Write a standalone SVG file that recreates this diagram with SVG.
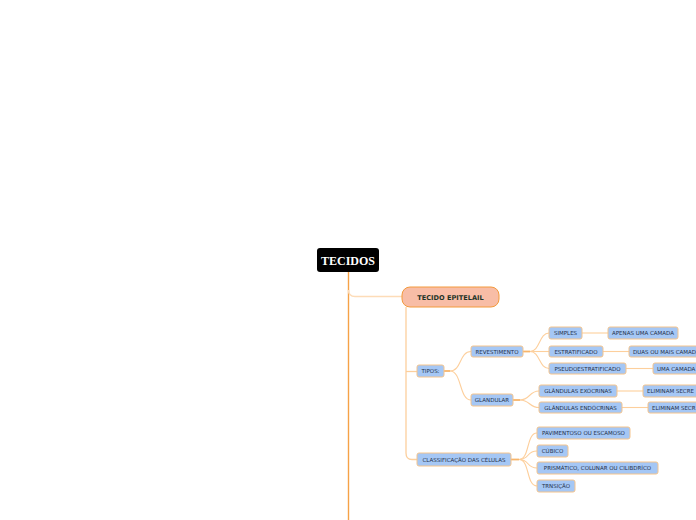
<svg xmlns="http://www.w3.org/2000/svg" width="696" height="520" viewBox="0 0 696 520">
<style>
.c{fill:none;stroke:#fdcf9c;stroke-width:1.1}
.m{fill:none;stroke:#f6a247;stroke-width:1.4}
.s{fill:none;stroke:#f8b56a;stroke-width:1.8}
.b{fill:#a5c7f5;stroke:#f5c48c;stroke-width:1}
.t{font-family:"DejaVu Sans",Verdana,sans-serif;font-size:5.5px;fill:#24304a;text-anchor:middle;dominant-baseline:central}
</style>
<rect width="696" height="520" fill="#ffffff"/>
<g id="connectors">
<path class="m" d="M348.5,272 V520"/>
<path d="M348.5,290 Q348.5,296.5 355,296.5 H402" fill="none" stroke="#fddcb8" stroke-width="1.5"/>
<path d="M406,307 V453 Q406,459.5 412,459.5 H417" fill="none" stroke="#fccf9d" stroke-width="1.3"/>
<path d="M406,371.5 H417" fill="none" stroke="#fccf9d" stroke-width="1.3"/>
<path class="s" d="M444,371 H450"/>
<path class="c" d="M450,371 C462,371 459,351.5 471,351.5"/>
<path class="c" d="M450,371 C462,371 459,400 471,400"/>
<path class="s" d="M523,351.5 H530"/>
<path class="c" d="M530,351.5 C540,351.5 539,333 549,333"/>
<path class="c" d="M530,351.5 H549"/>
<path class="c" d="M530,351.5 C540,351.5 539,368.5 549,368.5"/>
<path class="s" d="M513,400 H520"/>
<path class="c" d="M520,400 C530,400 529,391 539,391"/>
<path class="c" d="M520,400 C530,400 529,407.5 539,407.5"/>
<path class="s" d="M511,459.5 H519"/>
<path class="c" d="M519,459.5 C530,459.5 526,433 537,433"/>
<path class="c" d="M519,459.5 C530,459.5 526,451 537,451"/>
<path class="c" d="M519,459.5 C530,459.5 526,468 537,468"/>
<path class="c" d="M519,459.5 C530,459.5 526,486 537,486"/>
<path class="c" d="M582,333 H608"/>
<path class="c" d="M603,351.5 H629"/>
<path class="c" d="M626,368.5 H653"/>
<path class="c" d="M617,391 H643"/>
<path class="c" d="M622,407.5 H648"/>
</g>
<g id="tecidos">
<rect x="317" y="248" width="62" height="24" rx="3" fill="#000000"/>
<text x="348" y="260.5" font-family="'Liberation Serif','Times New Roman',serif" font-weight="bold" font-size="12" fill="#ffffff" text-anchor="middle" dominant-baseline="central">TECIDOS</text>
</g>
<g id="epitelail">
<rect x="402" y="287" width="97" height="20" rx="8" fill="#f8bda6" stroke="#f39a3c" stroke-width="1"/>
<text x="450.5" y="297.5" font-family="'DejaVu Sans',Verdana,sans-serif" font-weight="bold" font-size="6.6" fill="#1d3328" text-anchor="middle" dominant-baseline="central">TECIDO EPITELAIL</text>
</g>
<g id="tipos"><rect class="b" x="417" y="365" width="27" height="12" rx="2"/><text class="t" x="430.5" y="371.3">TIPOS:</text></g>
<g id="revestimento"><rect class="b" x="471" y="346" width="52" height="11" rx="2"/><text class="t" x="497" y="351.8">REVESTIMENTO</text></g>
<g id="glandular"><rect class="b" x="471" y="394" width="42" height="12" rx="2"/><text class="t" x="492" y="400.3">GLANDULAR</text></g>
<g id="simples"><rect class="b" x="549" y="327" width="33" height="12" rx="2"/><text class="t" x="565.5" y="333.3">SIMPLES</text></g>
<g id="apenas"><rect class="b" x="608" y="327" width="70" height="12" rx="2"/><text class="t" x="643" y="333.3">APENAS UMA CAMADA</text></g>
<g id="estratificado"><rect class="b" x="549" y="346" width="54" height="11" rx="2"/><text class="t" x="576" y="351.8">ESTRATIFICADO</text></g>
<g id="duas"><rect class="b" x="629" y="346" width="84" height="11" rx="2"/><text class="t" x="633" y="351.8" style="text-anchor:start">DUAS OU MAIS CAMADAS</text></g>
<g id="pseudo"><rect class="b" x="549" y="363" width="77" height="11" rx="2"/><text class="t" x="587.5" y="368.8">PSEUDOESTRATIFICADO</text></g>
<g id="uma"><rect class="b" x="653" y="363" width="50" height="11" rx="2"/><text class="t" x="657" y="368.8" style="text-anchor:start">UMA CAMADA</text></g>
<g id="exocrinas"><rect class="b" x="539" y="385" width="78" height="12" rx="2"/><text class="t" x="578" y="391.3">GLÂNDULAS EXÓCRINAS</text></g>
<g id="elim1"><rect class="b" x="643" y="385" width="70" height="12" rx="2"/><text class="t" x="647" y="391.3" style="text-anchor:start">ELIMINAM SECRE</text></g>
<g id="endocrinas"><rect class="b" x="539" y="402" width="83" height="11" rx="2"/><text class="t" x="580.5" y="407.8">GLÂNDULAS ENDÓCRINAS</text></g>
<g id="elim2"><rect class="b" x="648" y="402" width="70" height="11" rx="2"/><text class="t" x="652" y="407.8" style="text-anchor:start">ELIMINAM SECR</text></g>
<g id="classificacao"><rect class="b" x="417" y="453" width="94" height="13" rx="2"/><text class="t" x="464" y="459.8">CLASSIFICAÇÃO DAS CÉLULAS</text></g>
<g id="pavimentoso"><rect class="b" x="537" y="427" width="93" height="12" rx="2"/><text class="t" x="583.5" y="433.3">PAVIMENTOSO OU ESCAMOSO</text></g>
<g id="cubico"><rect class="b" x="537" y="445" width="31" height="12" rx="2"/><text class="t" x="552.5" y="451.3">CÚBICO</text></g>
<g id="prismatico"><rect class="b" x="537" y="462" width="121" height="12" rx="2"/><text class="t" x="597.5" y="468.3">PRISMÁTICO, COLUNAR OU CILIBDRÍCO</text></g>
<g id="transicao"><rect class="b" x="537" y="480" width="38" height="12" rx="2"/><text class="t" x="556" y="486.3">TRNSIÇÃO</text></g>
</svg>
